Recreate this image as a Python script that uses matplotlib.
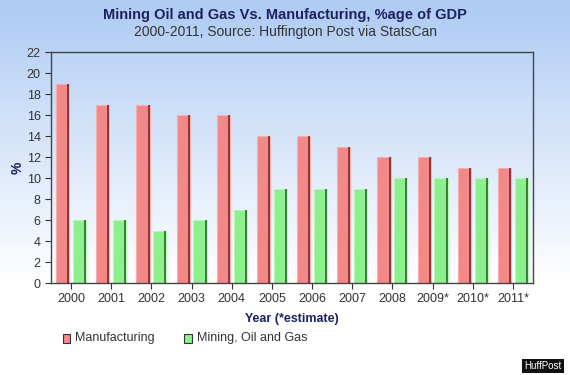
import matplotlib as mpl
mpl.use('Agg')
import matplotlib.pyplot as plt
import numpy as np
from matplotlib.colors import LinearSegmentedColormap
from matplotlib.patches import Rectangle

plt.rcParams['font.family'] = ['Liberation Sans', 'DejaVu Sans']

# data
years = ['2000', '2001', '2002', '2003', '2004', '2005', '2006', '2007',
         '2008', '2009*', '2010*', '2011*']
manufacturing = [19, 17, 17, 16, 16, 14, 14, 13, 12, 12, 11, 11]
mining = [6, 6, 5, 6, 7, 9, 9, 9, 10, 10, 10, 10]
yticks = list(range(0, 23, 2))

navy = '#1c2260'
red, red_dark = '#f28888', '#7a2a2a'
green, green_dark = '#8cf08c', '#2f6a2f'

fig = plt.figure(figsize=(5.7, 3.75), dpi=100)

# background gradient, light blue at top fading to white
bg = fig.add_axes([0, 0, 1, 1], zorder=-10)
cmap = LinearSegmentedColormap.from_list('bg', [(0, '#ffffff'), (0.25, '#ffffff'), (1, '#aecbf4')])
grad = np.linspace(0, 1, 256).reshape(-1, 1)
bg.imshow(grad, aspect='auto', cmap=cmap, origin='lower', extent=[0, 1, 0, 1])
bg.axis('off')

ax = fig.add_axes([0.0895, 0.2453, 0.8456, 0.616])
ax.patch.set_alpha(0)

x = np.arange(len(years))
w = 0.33
off = 0.21
shade = 0.05
ax.bar(x - off, manufacturing, w, color=red, edgecolor='#f7b0b0', linewidth=0.8)
ax.bar(x - off + w / 2 - shade / 2, manufacturing, shade, color=red_dark, linewidth=0, alpha=0.85)
ax.bar(x + off, mining, w, color=green, edgecolor='#b8f7b8', linewidth=0.8)
ax.bar(x + off + w / 2 - shade / 2, mining, shade, color=green_dark, linewidth=0, alpha=0.85)

ax.set_xlim(-0.5, len(years) - 0.5)
ax.set_ylim(0, 22)
ax.set_yticks(yticks)
ax.set_xticks(x)
ax.set_xticklabels(years)
ax.tick_params(axis='both', labelsize=9, colors='#333333', length=4, width=0.8)
for s in ax.spines.values():
    s.set_color('#444444')
    s.set_linewidth(1.0)

ax.set_xlabel('Year (*estimate)', fontsize=9, fontweight='bold', color=navy)
ax.xaxis.set_label_coords(0.5, -0.13)
ax.set_ylabel('%', fontsize=10, fontweight='bold', color=navy)
ax.yaxis.set_label_coords(-0.055, 0.5)

fig.text(0.5, 0.96, 'Mining Oil and Gas Vs. Manufacturing, %age of GDP',
         ha='center', va='center', fontsize=10.5, fontweight='bold', color=navy)
fig.text(0.5, 0.915, '2000-2011, Source: Huffington Post via StatsCan',
         ha='center', va='center', fontsize=10, color='#333333')

# legend
fig.patches.append(Rectangle((63 / 570, 1 - 343 / 375), 7 / 570, 9 / 375,
                             transform=fig.transFigure, facecolor=red, edgecolor='#333333', lw=0.8))
fig.text(75 / 570, 1 - 338 / 375, 'Manufacturing', va='center', fontsize=9, color='#333333')
fig.patches.append(Rectangle((184 / 570, 1 - 343 / 375), 8 / 570, 9 / 375,
                             transform=fig.transFigure, facecolor=green, edgecolor='#333333', lw=0.8))
fig.text(197 / 570, 1 - 338 / 375, 'Mining, Oil and Gas', va='center', fontsize=9, color='#333333')

# HuffPost badge
fig.text(0.953, 1 - 366 / 375, 'HuffPost', ha='center', va='center', fontsize=7, color='white',
         bbox=dict(boxstyle='square,pad=0.25', facecolor='#111111', edgecolor='none'))

fig.savefig('out.png', dpi=100)
